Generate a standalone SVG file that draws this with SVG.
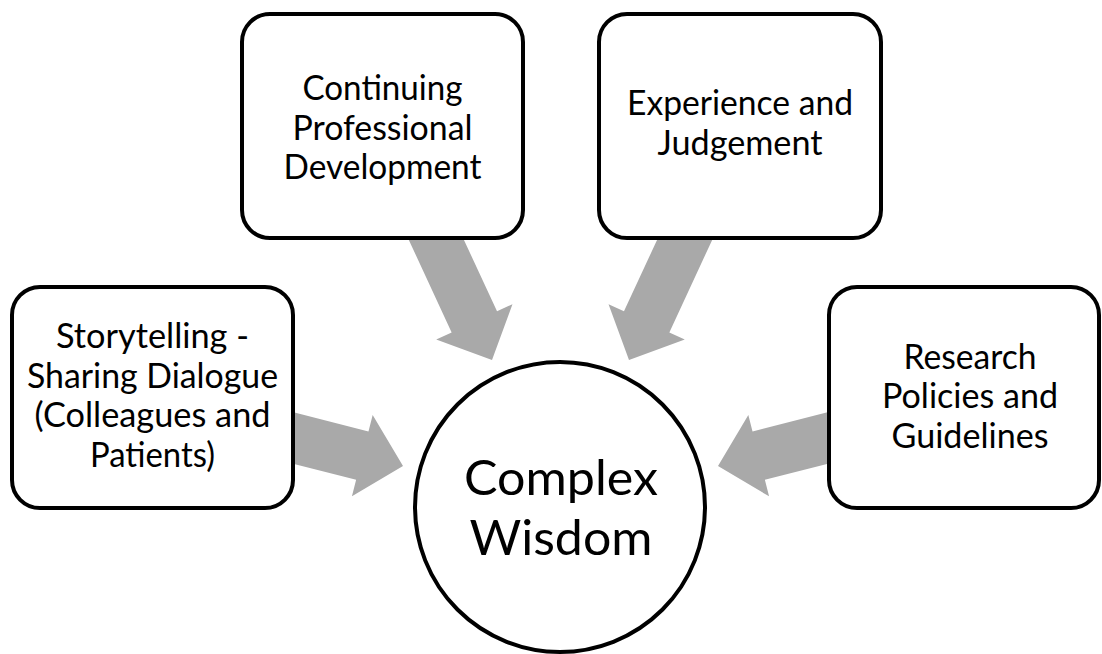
<svg xmlns="http://www.w3.org/2000/svg" width="1102" height="654" viewBox="0 0 1102 654">
<style>
.box{fill:#fff;stroke:#000;stroke-width:4}
.arrow{fill:#A9A9A9;stroke:none}
.t{font-family:Lato,"Open Sans","Liberation Sans",sans-serif;font-size:34px;fill:#000;text-anchor:middle}
.c{font-family:Lato,"Open Sans","Liberation Sans",sans-serif;font-size:49px;fill:#000;text-anchor:middle}
</style>
<rect width="1102" height="654" fill="#fff"/>
<g id="connectors">
<polygon class="arrow" points="406.5,234.9 451.65,332.39 436.22,339.54 492,360 512.46,304.22 497.03,311.37 451.89,213.89"/>
<polygon class="arrow" points="714.5,234.9 669.35,332.39 684.78,339.54 629,360 608.54,304.22 623.97,311.37 669.11,213.89"/>
<polygon class="arrow" points="274.3,459 356.13,479.86 351.93,496.33 403,466 372.67,414.93 368.47,431.4 286.7,410.6"/>
<polygon class="arrow" points="846.7,459 764.87,479.86 769.07,496.33 718,466 748.33,414.93 752.53,431.4 834.3,410.6"/>
</g>
<g id="node-cpd">
<rect class="box" x="242" y="14" width="281" height="224" rx="28"/>
<text class="t" x="382.5" y="100" textLength="160" lengthAdjust="spacingAndGlyphs">Continuing</text>
<text class="t" x="382.5" y="139.5" textLength="180" lengthAdjust="spacingAndGlyphs">Professional</text>
<text class="t" x="382.5" y="179" textLength="198" lengthAdjust="spacingAndGlyphs">Development</text>
</g>
<g id="node-experience">
<rect class="box" x="599" y="14" width="282" height="224" rx="28"/>
<text class="t" x="740" y="115" textLength="226" lengthAdjust="spacingAndGlyphs">Experience and</text>
<text class="t" x="740" y="154.5" textLength="165" lengthAdjust="spacingAndGlyphs">Judgement</text>
</g>
<g id="node-storytelling">
<rect class="box" x="12" y="287" width="281" height="221" rx="28"/>
<text class="t" x="152.5" y="348" textLength="193" lengthAdjust="spacingAndGlyphs">Storytelling -</text>
<text class="t" x="152.5" y="387.5" textLength="251" lengthAdjust="spacingAndGlyphs">Sharing Dialogue</text>
<text class="t" x="152.5" y="427" textLength="236" lengthAdjust="spacingAndGlyphs">(Colleagues and</text>
<text class="t" x="152.5" y="466.5" textLength="125" lengthAdjust="spacingAndGlyphs">Patients)</text>
</g>
<g id="node-research">
<rect class="box" x="829" y="287" width="270" height="221" rx="28"/>
<text class="t" x="970" y="368.5" textLength="133" lengthAdjust="spacingAndGlyphs">Research</text>
<text class="t" x="970" y="408" textLength="176" lengthAdjust="spacingAndGlyphs">Policies and</text>
<text class="t" x="970" y="447.5" textLength="157" lengthAdjust="spacingAndGlyphs">Guidelines</text>
</g>
<g id="node-wisdom">
<circle class="box" cx="560" cy="507" r="145"/>
<text class="c" x="561" y="495" textLength="194" lengthAdjust="spacingAndGlyphs">Complex</text>
<text class="c" x="561" y="555" textLength="183" lengthAdjust="spacingAndGlyphs">Wisdom</text>
</g>
</svg>
